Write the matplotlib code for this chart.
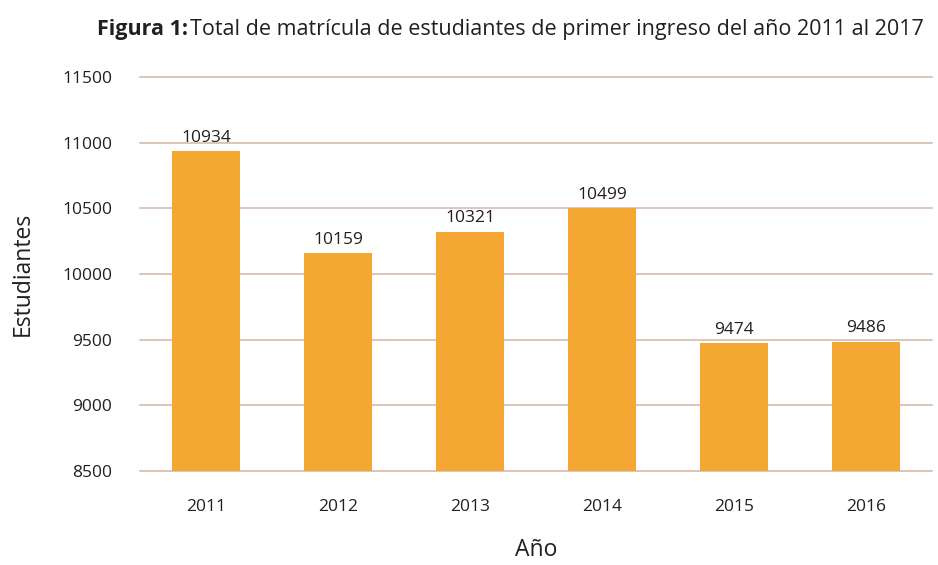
import matplotlib
matplotlib.use("Agg")
import matplotlib.pyplot as plt

years = ["2011", "2012", "2013", "2014", "2015", "2016"]
students = [10934, 10159, 10321, 10499, 9474, 9486]
yticks = [8500, 9000, 9500, 10000, 10500, 11000, 11500]

base_font = "Open Sans"
txt = "#231f20"

fig = plt.figure(figsize=(9.38, 5.65), dpi=100)
ax = fig.add_axes([140/938, 1 - 471/565, (932-140)/938, (471-77)/565])

x = range(len(years))
ax.bar(x, students, width=0.51, color="#F4A733", zorder=3)
ax.set_xlim(-0.5, len(years) - 0.5)
ax.set_ylim(8500, 11500)
ax.set_yticks(yticks)
ax.set_yticklabels([str(v) for v in yticks], fontfamily=base_font, fontsize=12.5, color=txt)
ax.set_xticks(list(x))
ax.set_xticklabels(years, fontfamily=base_font, fontsize=12.5, color=txt)
ax.tick_params(axis="both", length=0)
ax.tick_params(axis="y", pad=20)
ax.tick_params(axis="x", pad=20)
for v in yticks:
    ax.axhline(v, color="#d6b5a6", linewidth=1.1, zorder=0, clip_on=False)
for s in ax.spines.values():
    s.set_visible(False)

for xi, v in zip(x, students):
    ax.annotate(str(v), (xi, v), xytext=(0, 4), textcoords="offset points",
                ha="center", va="bottom", fontfamily=base_font, fontsize=12.5, color=txt)

ax.set_ylabel("Estudiantes", fontfamily=base_font, fontsize=16.5, color=txt, labelpad=20)
ax.set_xlabel("Año", fontfamily=base_font, fontsize=16.5, color=txt, labelpad=17)

# Title: bold part + regular part
fig.canvas.draw()
r = fig.canvas.get_renderer()
ty = 1 - 30/565
t1 = fig.text(97/938, ty, "Figura 1:", fontfamily=base_font, fontweight="bold",
              fontsize=15.5, color=txt, ha="left", va="center")
bb = t1.get_window_extent(renderer=r)
x2 = (bb.x1 + 2) / fig.bbox.width
fig.text(x2, ty, "Total de matrícula de estudiantes de primer ingreso del año 2011 al 2017",
         fontfamily=base_font, fontsize=15.5, color=txt, ha="left", va="center")

fig.savefig("out.png", dpi=100)
